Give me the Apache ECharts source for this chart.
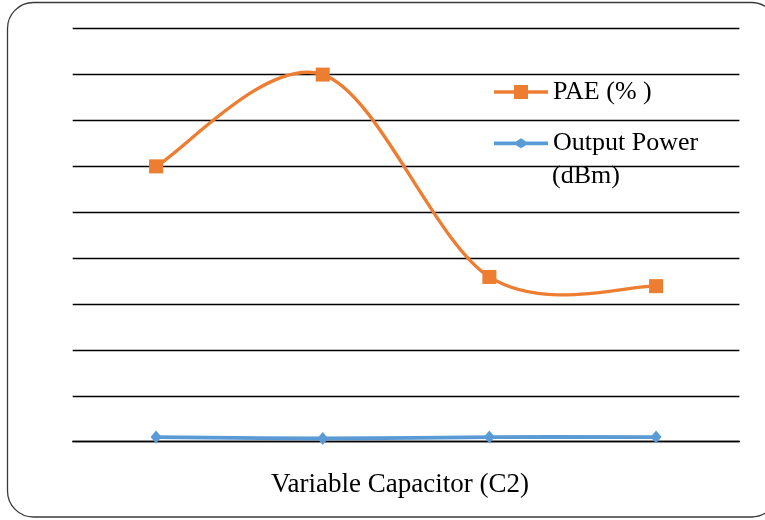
<!DOCTYPE html>
<html>
<head>
<meta charset="utf-8">
<script src="https://cdn.jsdelivr.net/npm/echarts@6/dist/echarts.min.js"></script>
<style>
  html, body { margin: 0; padding: 0; background: #fff; }
  #chart { width: 765px; height: 520px; }
</style>
</head>
<body>
<div id="chart"></div>
<script>
// Four settings of the variable capacitor C2
const categories = ['1', '2', '3', '4'];
// Power-added efficiency (%)
const paeValues = [60, 80, 35.9, 33.9];
// Output power (dBm)
const outputPowerValues = [1.0, 0.7, 1.0, 1.0];
// Value axis range (no tick labels are shown)
const yMin = 0, yMax = 90, yStep = 10;

const serif = '"Liberation Serif", "Times New Roman", serif';
const ORANGE = '#ED7D31';
const BLUE = '#5B9BD5';

// Smoothed path through the points (Catmull-Rom style cubic segments),
// positioned with the chart's own coordinate mapping.
function smoothPath(api, values) {
  const pts = values.map((v, i) => api.coord([i, v]));
  const n = pts.length;
  let d = 'M' + pts[0][0] + ',' + pts[0][1];
  for (let i = 0; i < n - 1; i++) {
    const p0 = pts[Math.max(i - 1, 0)];
    const p1 = pts[i];
    const p2 = pts[i + 1];
    const p3 = pts[Math.min(i + 2, n - 1)];
    const c1x = p1[0] + (p2[0] - p0[0]) / 6, c1y = p1[1] + (p2[1] - p0[1]) / 6;
    const c2x = p2[0] - (p3[0] - p1[0]) / 6, c2y = p2[1] - (p3[1] - p1[1]) / 6;
    d += ' C' + c1x + ',' + c1y + ' ' + c2x + ',' + c2y + ' ' + p2[0] + ',' + p2[1];
  }
  return d;
}

function curveSeries(name, values, color, width) {
  return {
    name: name,
    type: 'custom',
    coordinateSystem: 'cartesian2d',
    z: 2,
    silent: true,
    data: values.map((v, i) => [i, v]),
    encode: { x: 0, y: 1 },
    renderItem: (params, api) => {
      if (params.dataIndex !== 0) return null;
      return {
        type: 'path',
        shape: { pathData: smoothPath(api, values) },
        style: { fill: 'none', stroke: color, lineWidth: width, lineJoin: 'round', lineCap: 'round' }
      };
    }
  };
}

function markerSeries(name, values, symbol, size, color) {
  return {
    name: name,
    type: 'line',
    z: 3,
    data: values,
    symbol: symbol,
    symbolSize: size,
    showAllSymbol: true,
    lineStyle: { width: 0, opacity: 0 },
    itemStyle: { color: color }
  };
}

const legendText = { fontFamily: serif, fontSize: 26, color: '#000', lineHeight: 26 };

const chart = echarts.init(document.getElementById('chart'));

chart.setOption({
  animation: false,
  backgroundColor: '#fff',
  grid: { left: 72.7, right: 25.6, top: 28.7, bottom: 78.3 },
  legend: [
    {
      left: 494,
      top: 79,
      padding: 0,
      itemWidth: 54,
      itemHeight: 14,
      textStyle: legendText,
      formatter: () => 'PAE (% )',
      data: [{
        name: 'PAE (%)',
        icon: 'path://M0,5.25H20V0H34V5.25H54V8.75H34V14H20V8.75H0Z',
        itemStyle: { color: ORANGE }
      }]
    },
    {
      left: 494,
      top: 130.3,
      padding: 0,
      itemWidth: 54,
      itemHeight: 10,
      textStyle: legendText,
      formatter: () => 'Output Power',
      data: [{
        name: 'Output Power (dBm)',
        icon: 'path://M0,3.1H22L27,0L32,3.1H54V6.9H32L27,10L22,6.9H0Z',
        itemStyle: { color: BLUE }
      }]
    }
  ],
  graphic: [
    {
      type: 'rect',
      silent: true,
      shape: { x: 7.5, y: 2.5, width: 770, height: 514.5, r: 26 },
      style: { fill: 'none', stroke: '#3a3a3a', lineWidth: 1.3 }
    },
    {
      type: 'text',
      silent: true,
      left: 552,
      top: 163,
      style: { text: '(dBm)', font: '26px ' + serif, fill: '#000' }
    }
  ],
  xAxis: {
    type: 'category',
    data: categories,
    boundaryGap: true,
    name: 'Variable Capacitor (C2)',
    nameLocation: 'middle',
    nameGap: 30,
    nameTextStyle: { fontFamily: serif, fontSize: 27, color: '#000', padding: [0, 12, 0, 0] },
    axisLine: { show: true, lineStyle: { color: '#000', width: 1.3 } },
    axisTick: { show: false },
    axisLabel: { show: false }
  },
  yAxis: {
    type: 'value',
    min: yMin,
    max: yMax,
    interval: yStep,
    axisLine: { show: false },
    axisTick: { show: false },
    axisLabel: { show: false },
    splitLine: { show: true, lineStyle: { color: '#000', width: 1.3 } }
  },
  series: [
    curveSeries('PAE (%)', paeValues, ORANGE, 3.3),
    curveSeries('Output Power (dBm)', outputPowerValues, BLUE, 3.8),
    markerSeries('PAE (%)', paeValues, 'rect', 14, ORANGE),
    markerSeries('Output Power (dBm)', outputPowerValues, 'diamond', [11, 13], BLUE)
  ]
});
</script>
</body>
</html>
